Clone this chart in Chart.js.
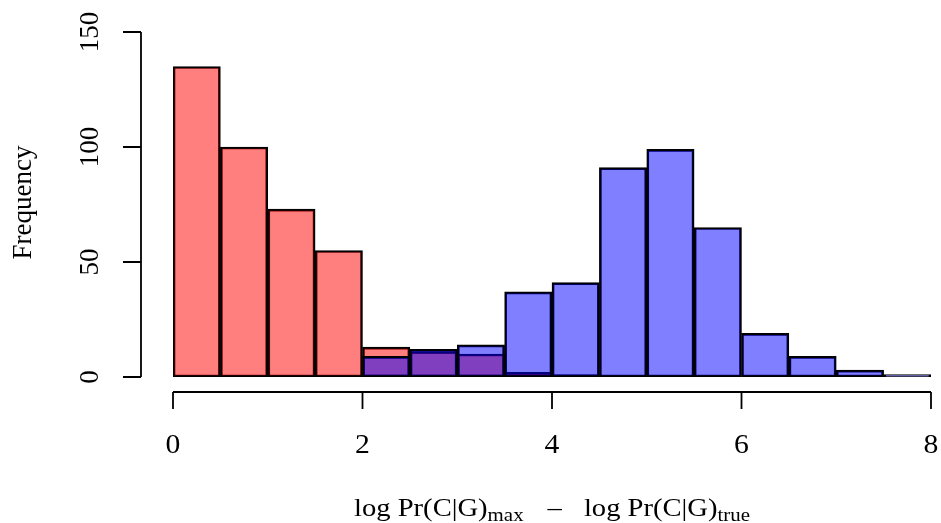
<!DOCTYPE html>
<html>
<head>
<meta charset="utf-8">
<script src="https://cdn.jsdelivr.net/npm/chart.js@4"></script>
<style>
  html, body { margin: 0; padding: 0; background: #fff; }
  #wrap { width: 941px; height: 523px; }
</style>
</head>
<body>
<div id="wrap"><canvas id="histChart" width="941" height="523"></canvas></div>
<script>
// histogram breaks and counts
const breaks = [0, 0.5, 1, 1.5, 2, 2.5, 3, 3.5, 4, 4.5, 5, 5.5, 6, 6.5, 7, 7.5, 8];
const redCounts  = [135, 100, 73, 55, 13, 11, 10, 2, 1, null, null, null, null, null, null, null];
const blueCounts = [null, null, null, null, 9, 12, 14, 37, 41, 91, 99, 65, 19, 9, 3, 1];
const xTicks = [0, 2, 4, 6, 8];
const yTicks = [0, 50, 100, 150];
const yLabel = "Frequency";

const FONT = '"Liberation Serif", "DejaVu Serif", serif';
const SX = 1.1; // R's serif is a bit wider than Liberation

function toPoints(counts) {
    return counts.map((c, i) => ({ x: (breaks[i] + breaks[i + 1]) / 2, y: c }));
}

// stretched text helper
function wideText(ctx, txt, x, y, sx) {
    ctx.save();
    ctx.translate(x, y);
    ctx.scale(sx, 1);
    ctx.fillText(txt, 0, 0);
    ctx.restore();
}

// R style axes, pulled away from the plot region
const rAxes = {
    id: 'rAxes',
    afterDraw(chart) {
        const ctx = chart.ctx;
        const xs = chart.scales.x;
        const ys = chart.scales.y;
        ctx.save();
        ctx.strokeStyle = '#000';
        ctx.fillStyle = '#000';
        ctx.lineWidth = 1.8;

        // y axis
        let axX = 141;
        ctx.beginPath();
        ctx.moveTo(axX, ys.getPixelForValue(yTicks[0]));
        ctx.lineTo(axX, ys.getPixelForValue(yTicks[yTicks.length - 1]));
        yTicks.forEach(t => {
            let py = ys.getPixelForValue(t);
            ctx.moveTo(axX, py);
            ctx.lineTo(axX - 18, py);
        });
        ctx.stroke();
        ctx.font = '27px ' + FONT;
        ctx.textAlign = 'center';
        ctx.textBaseline = 'middle';
        yTicks.forEach(t => {
            ctx.save();
            ctx.translate(91, ys.getPixelForValue(t));
            ctx.rotate(-Math.PI / 2);
            ctx.fillText(String(t), 0, 0);
            ctx.restore();
        });
        ctx.save();
        ctx.translate(24, (ys.top + ys.bottom) / 2 - 2);
        ctx.rotate(-Math.PI / 2);
        ctx.fillText(yLabel, 0, 0);
        ctx.restore();

        // x axis
        let axY = 392;
        ctx.beginPath();
        ctx.moveTo(xs.getPixelForValue(xTicks[0]), axY);
        ctx.lineTo(xs.getPixelForValue(xTicks[xTicks.length - 1]), axY);
        xTicks.forEach(t => {
            let px = xs.getPixelForValue(t);
            ctx.moveTo(px, axY);
            ctx.lineTo(px, axY + 17);
        });
        ctx.stroke();
        ctx.textBaseline = 'alphabetic';
        xTicks.forEach(t => {
            wideText(ctx, String(t), xs.getPixelForValue(t), 453, SX);
        });

        // x label with subscripts
        const parts = [
            { t: 'log Pr(C|G)', sub: false, gap: 0 },
            { t: 'max', sub: true, gap: 0 },
            { t: '\u2013', sub: false, gap: 24 },
            { t: 'log Pr(C|G)', sub: false, gap: 22 },
            { t: 'true', sub: true, gap: 0 }
        ];
        const big = '26px ' + FONT, small = '19px ' + FONT;
        let total = 0;
        parts.forEach(p => {
            ctx.font = p.sub ? small : big;
            p.w = ctx.measureText(p.t).width * SX;
            total += p.w + p.gap;
        });
        let cx = (xs.left + xs.right) / 2 - total / 2;
        ctx.textAlign = 'left';
        parts.forEach(p => {
            ctx.font = p.sub ? small : big;
            cx += p.gap;
            wideText(ctx, p.t, cx, p.sub ? 521 : 516, SX);
            cx += p.w;
        });
        ctx.restore();
    }
};

new Chart("histChart", {
    type: 'bar',
    data: {
        datasets: [{
            label: 'max',
            data: toPoints(redCounts),
            backgroundColor: 'rgba(255,0,0,0.5)',
            borderColor: '#000',
            borderWidth: 2,
            borderSkipped: false,
            order: 2
        }, {
            label: 'true',
            data: toPoints(blueCounts),
            backgroundColor: 'rgba(0,0,255,0.5)',
            borderColor: '#000',
            borderWidth: 2,
            borderSkipped: false,
            order: 1
        }]
    },
    options: {
        responsive: false,
        animation: false,
        layout: { padding: { left: 173, right: 10, top: 32, bottom: 146 } },
        datasets: {
            bar: { barPercentage: 1, categoryPercentage: 1, grouped: false }
        },
        scales: {
            x: { type: 'linear', min: 0, max: 8, offset: false, display: false },
            y: { min: 0, max: 150, display: false }
        },
        plugins: {
            legend: { display: false },
            tooltip: { enabled: false }
        }
    },
    plugins: [rAxes]
});
</script>
</body>
</html>
